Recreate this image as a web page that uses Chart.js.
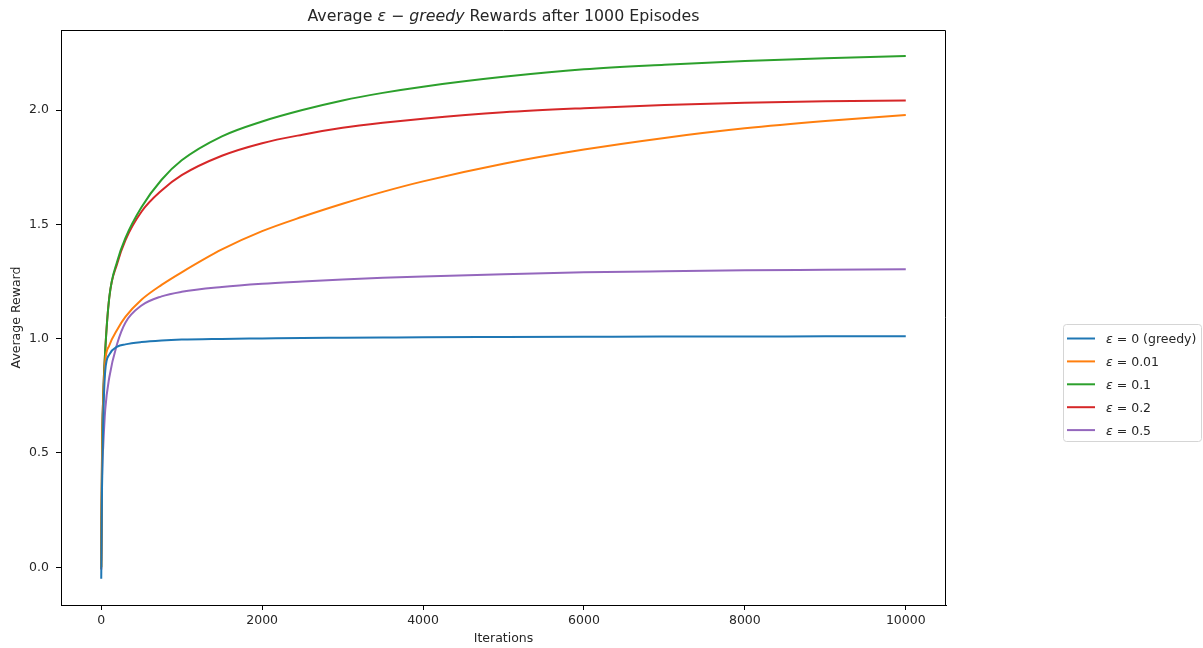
<!DOCTYPE html>
<html>
<head>
<meta charset="utf-8">
<script src="https://cdn.jsdelivr.net/npm/chart.js@4.4.0/dist/chart.umd.min.js"></script>
<style>
  html, body { margin: 0; padding: 0; background: #fff; }
  canvas { display: block; }
</style>
</head>
<body>
<canvas id="rewardChart" width="1203" height="648"></canvas>
<script>
const iterations = [0, 10, 25, 50, 100, 200, 300, 500, 750, 1000, 1500, 2000, 2500, 3000, 3500, 4000, 5000, 6000, 7000, 8000, 9000, 10000];

const eps0   = [-0.05, 0.35, 0.65, 0.86, 0.93, 0.965, 0.975, 0.985, 0.992, 0.996, 0.999, 1.001, 1.003, 1.004, 1.005, 1.006, 1.007, 1.008, 1.009, 1.009, 1.01, 1.01];
const eps001 = [0.0, 0.45, 0.72, 0.9, 0.97, 1.04, 1.095, 1.17, 1.235, 1.29, 1.39, 1.47, 1.533, 1.59, 1.642, 1.688, 1.765, 1.827, 1.878, 1.92, 1.952, 1.978];
const eps01  = [0.0, 0.5, 0.75, 0.95, 1.18, 1.34, 1.44, 1.575, 1.695, 1.78, 1.885, 1.95, 2.0, 2.042, 2.075, 2.102, 2.145, 2.178, 2.198, 2.214, 2.226, 2.236];
const eps02  = [-0.01, 0.5, 0.75, 0.95, 1.18, 1.33, 1.43, 1.555, 1.648, 1.715, 1.80, 1.855, 1.892, 1.922, 1.944, 1.962, 1.99, 2.008, 2.022, 2.032, 2.038, 2.042];
const eps05  = [0.03, 0.4, 0.53, 0.69, 0.83, 0.98, 1.07, 1.145, 1.185, 1.205, 1.226, 1.24, 1.25, 1.259, 1.266, 1.272, 1.282, 1.29, 1.295, 1.299, 1.301, 1.303];

const seriesLabels = ["ε = 0 (greedy)", "ε = 0.01", "ε = 0.1", "ε = 0.2", "ε = 0.5"];
const seriesColors = ["#1f77b4", "#ff7f0e", "#2ca02c", "#d62728", "#9467bd"];
const xTicks = [0, 2000, 4000, 6000, 8000, 10000];
const yTicks = [0.0, 0.5, 1.0, 1.5, 2.0];

const FONT = "DejaVu Sans";

function toPoints(values) {
    return iterations.map((x, i) => ({ x: x, y: values[i] }));
}

const allSeries = [eps0, eps001, eps01, eps02, eps05];

const data = {
    datasets: allSeries.map((vals, i) => ({
        label: seriesLabels[i],
        data: toPoints(vals),
        borderColor: seriesColors[i],
        backgroundColor: seriesColors[i],
        borderWidth: 2,
        pointRadius: 0,
        fill: false,
        cubicInterpolationMode: 'monotone'
    }))
};

// draws "ε" in italic and the rest upright, starting at x
function drawEpsText(ctx, text, x, y, size) {
    ctx.font = "italic " + size + "px '" + FONT + "'";
    ctx.fillText(text[0], x, y);
    let w = ctx.measureText(text[0]).width;
    ctx.font = size + "px '" + FONT + "'";
    ctx.fillText(text.slice(1), x + w, y);
}

const decorations = {
    id: 'decorations',
    afterDraw(chart) {
        const ctx = chart.ctx;
        const a = chart.chartArea;
        ctx.save();

        // top and right sides of the frame (left/bottom are the axis borders)
        ctx.strokeStyle = '#000';
        ctx.lineWidth = 1;
        ctx.beginPath();
        ctx.moveTo(Math.round(a.left), Math.round(a.top) + 0.5);
        ctx.lineTo(Math.round(a.right) - 0.5, Math.round(a.top) + 0.5);
        ctx.lineTo(Math.round(a.right) - 0.5, Math.round(a.bottom));
        ctx.stroke();

        ctx.fillStyle = '#262626';
        ctx.textBaseline = 'alphabetic';

        // title with the math part
        const size = 15.8;
        const parts = [
            ["Average ", ""],
            ["ε", "italic "],
            [" − ", ""],
            ["greedy", "italic "],
            [" Rewards after 1000 Episodes", ""]
        ];
        let total = 0;
        parts.forEach(p => {
            ctx.font = p[1] + size + "px '" + FONT + "'";
            total += ctx.measureText(p[0]).width;
        });
        let tx = (a.left + a.right) / 2 - total / 2;
        parts.forEach(p => {
            ctx.font = p[1] + size + "px '" + FONT + "'";
            ctx.fillText(p[0], tx, 21);
            tx += ctx.measureText(p[0]).width;
        });

        // axis titles
        ctx.font = "12.5px '" + FONT + "'";
        ctx.textAlign = 'center';
        ctx.fillText("Iterations", (a.left + a.right) / 2, 642);
        ctx.save();
        ctx.translate(20, (a.top + a.bottom) / 2);
        ctx.rotate(-Math.PI / 2);
        ctx.fillText("Average Reward", 0, 0);
        ctx.restore();
        ctx.textAlign = 'left';

        // legend
        const lx = 1063, ly = 324, lw = 138, lh = 117;
        ctx.beginPath();
        ctx.roundRect(lx + 0.5, ly + 0.5, lw, lh, 3);
        ctx.fillStyle = 'rgba(255,255,255,0.8)';
        ctx.fill();
        ctx.strokeStyle = '#d5d5d5';
        ctx.lineWidth = 1;
        ctx.stroke();

        chart.data.datasets.forEach((ds, i) => {
            const cy = 338.5 + i * 22.9;
            ctx.strokeStyle = ds.borderColor;
            ctx.lineWidth = 2;
            ctx.beginPath();
            ctx.moveTo(1067, cy);
            ctx.lineTo(1095, cy);
            ctx.stroke();
            ctx.fillStyle = '#262626';
            drawEpsText(ctx, ds.label, 1106, cy + 4.5, 12.5);
        });

        ctx.restore();
    }
};

const config = {
    type: 'line',
    data: data,
    options: {
        responsive: false,
        animation: false,
        layout: {
            padding: { top: 30, right: 257, bottom: 0, left: 0 }
        },
        plugins: {
            legend: { display: false },
            tooltip: { enabled: false }
        },
        scales: {
            x: {
                type: 'linear',
                min: -500,
                max: 10500,
                afterFit: function (scale) { scale.height = 43; },
                afterBuildTicks: function (scale) {
                    scale.ticks = xTicks.map(v => ({ value: v }));
                },
                grid: {
                    display: true,
                    drawOnChartArea: false,
                    drawTicks: true,
                    tickLength: 5,
                    color: '#000'
                },
                border: { color: '#000', width: 1 },
                ticks: {
                    color: '#262626',
                    padding: 3,
                    maxRotation: 0,
                    font: { family: FONT, size: 12.5 },
                    callback: v => String(v)
                }
            },
            y: {
                type: 'linear',
                min: -0.165,
                max: 2.35,
                afterFit: function (scale) { scale.width = 61; },
                afterBuildTicks: function (scale) {
                    scale.ticks = yTicks.map(v => ({ value: v }));
                },
                grid: {
                    display: true,
                    drawOnChartArea: false,
                    drawTicks: true,
                    tickLength: 5,
                    color: '#000'
                },
                border: { color: '#000', width: 1 },
                ticks: {
                    color: '#262626',
                    padding: 7,
                    font: { family: FONT, size: 12.5 },
                    callback: v => v.toFixed(1)
                }
            }
        }
    },
    plugins: [decorations]
};

window.onload = function () {
    const ctx = document.getElementById('rewardChart').getContext('2d');
    new Chart(ctx, config);
};
</script>
</body>
</html>
